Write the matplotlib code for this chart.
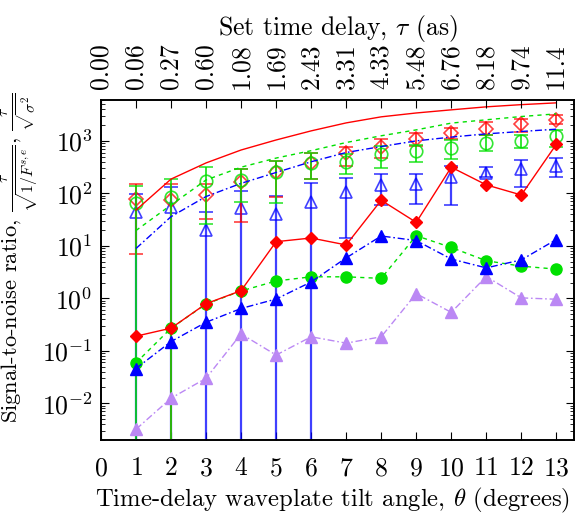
import numpy as np
import matplotlib
matplotlib.use("Agg")
import matplotlib.pyplot as plt

plt.rcParams['font.family'] = 'cmr10'
plt.rcParams['mathtext.fontset'] = 'cm'
plt.rcParams['axes.unicode_minus'] = False
plt.rcParams['axes.formatter.use_mathtext'] = True
plt.rcParams['font.size'] = 18.5

# tilt angle (degrees) and matching set time delay
theta = [1, 2, 3, 4, 5, 6, 7, 8, 9, 10, 11, 12, 13]
tau_labels = ["0.00", "0.06", "0.27", "0.60", "1.08", "1.69", "2.43",
              "3.31", "4.33", "5.48", "6.76", "8.18", "9.74", "11.4"]

# bound curves (no markers)
red_curve = [48, 187, 380, 670, 1040, 1550, 2200, 2870, 3400, 3900, 4450, 4900, 5300]
green_curve = [19.6, 60, 180, 315, 470, 650, 930, 1250, 1620, 2180, 2520, 2910, 3270]
blue_curve = [8.9, 36, 87, 155, 250, 400, 600, 780, 1000, 1180, 1360, 1510, 1670]

# open markers with error bars (value, upper end, lower end)
red_open = [78, 75, 93, 163, 253, 375, 580, 780, 1080, 1400, 1700, 2110, 2520]
red_open_hi = [148, 148, 148, 290, 420, 580, 780, 1080, 1440, 1750, 2240, 2600, 3130]
red_open_lo = [6.9, 1e-5, 33, 29, 87, 185, 333, 470, 810, 1080, 1300, 1500, 2080]

green_open = [66, 87, 173, 180, 258, 375, 400, 560, 650, 745, 930, 1010, 1250]
green_open_hi = [140, 185, 315, 290, 420, 580, 560, 800, 840, 1040, 1300, 1300, 1620]
green_open_lo = [1e-5, 1e-5, 26, 67, 66, 185, 230, 300, 400, 455, 650, 745, 780]

blue_open = [44, 54, 20, 52, 40, 69, 108, 145, 150, 209, 241, 290, 333]
blue_open_hi = [96, 134, 45, 113, 89, 155, 200, 230, 233, 333, 315, 433, 470]
blue_open_lo = [1e-5, 1e-5, 1e-5, 1e-5, 1e-5, 1e-5, 13.8, 60, 63, 60, 203, 134, 203]

# filled markers with lines
red_filled = [0.19, 0.27, 0.79, 1.4, 12, 14.1, 10.4, 74, 28, 315, 145, 93, 860]
green_filled = [0.059, 0.27, 0.78, 1.38, 2.14, 2.57, 2.57, 2.40, 15.6, 9.3, 5.2, 4.1, 3.6]
blue_filled = [0.046, 0.15, 0.35, 0.64, 0.97, 2.05, 5.9, 15.4, 12.6, 5.6, 3.8, 5.4, 13.2]
violet_filled = [0.0032, 0.0125, 0.030, 0.21, 0.083, 0.185, 0.14, 0.185, 1.23, 0.54, 2.6, 1.02, 0.96]

RED = '#ff0000'
GREEN = '#00e000'
BLUE = '#0000ff'
VIOLET = '#bb88f4'

fig = plt.figure(figsize=(5.82, 5.14), dpi=100)
ax = fig.add_axes([0.1735, 0.144, 0.8125, 0.6614])

x = np.array(theta)


def err(v, hi, lo):
    v = np.array(v)
    return [v - np.array(lo), np.array(hi) - v]


# error bars first: blue, red, then green on top
ax.errorbar(x, blue_open, yerr=err(blue_open, blue_open_hi, blue_open_lo), fmt='^',
            mfc='none', mec=BLUE, ms=9, mew=1.2, ecolor=BLUE, elinewidth=1.6,
            capsize=5, capthick=1.4, alpha=0.75, zorder=2)
ax.errorbar(x, red_open, yerr=err(red_open, red_open_hi, red_open_lo), fmt='D',
            mfc='none', mec=RED, ms=7, mew=1.2, ecolor=RED, elinewidth=1.4,
            capsize=5, capthick=1.4, alpha=0.75, zorder=3)
ax.errorbar(x, green_open, yerr=err(green_open, green_open_hi, green_open_lo), fmt='o',
            mfc='none', mec=GREEN, ms=9, mew=1.2, ecolor=GREEN, elinewidth=1.4,
            capsize=5, capthick=1.4, alpha=0.8, zorder=3.5)

ax.plot(x, red_curve, '-', color=RED, lw=1.0, zorder=4)
ax.plot(x, green_curve, '--', color=GREEN, lw=1.0, dashes=(3, 3), zorder=4)
ax.plot(x, blue_curve, '-.', color=BLUE, lw=1.0, dashes=(5, 2, 1.2, 2), zorder=4)

ax.plot(x, violet_filled, '-.', color=VIOLET, lw=1.0, dashes=(5, 2, 1.2, 2),
        marker='^', ms=8, zorder=5)
ax.plot(x, green_filled, '--', color=GREEN, lw=1.0, dashes=(3, 3),
        marker='o', ms=8, zorder=5)
ax.plot(x, blue_filled, '-.', color=BLUE, lw=1.0, dashes=(5, 2, 1.2, 2),
        marker='^', ms=8, zorder=6)
ax.plot(x, red_filled, '-', color=RED, lw=1.0, marker='D', ms=6, zorder=6)

ax.set_yscale('log')
ax.set_xlim(0, 13.5)
ax.set_ylim(2e-3, 6e3)
ax.set_xticks(range(14))
ax.set_yticks([1e-2, 1e-1, 1, 1e1, 1e2, 1e3])
ax.tick_params(which='both', direction='in', right=True, top=False)
ax.tick_params(axis='x', which='minor', bottom=False)
ax.tick_params(which='major', length=6)
ax.tick_params(which='minor', length=3)
ax.tick_params(axis='x', pad=12)
ax.tick_params(axis='y', pad=6)

ax.set_xlabel(r'Time-delay waveplate tilt angle, $\theta$ (degrees)', fontsize=17.8)
ax.xaxis.set_label_coords(0.49, -0.135)
ax.set_ylabel(r'Signal-to-noise ratio, $\frac{\tau}{\sqrt{1/F^{s,e}}}$, $\frac{\tau}{\sqrt{\sigma^2}}$',
              fontsize=16.2)
ax.yaxis.set_label_coords(-0.13, 0.535)

ax2 = ax.twiny()
ax2.set_xlim(ax.get_xlim())
ax2.set_xticks(range(14))
ax2.set_xticklabels(tau_labels, rotation=90)
ax2.tick_params(direction='in', length=6, pad=8)
ax2.set_xlabel(r'Set time delay, $\tau$ (as)', labelpad=6)

for a in (ax, ax2):
    for s in a.spines.values():
        s.set_linewidth(1.2)

fig.savefig('out.png', dpi=100)
